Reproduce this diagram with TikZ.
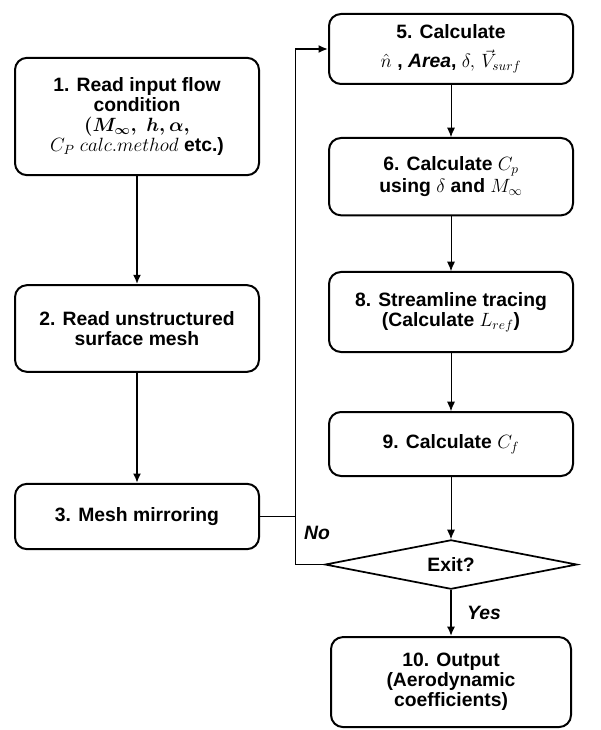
\documentclass[tikz,border=0pt]{standalone}
\usepackage{amsmath}
\usepackage{fontspec}
\setmainfont{Liberation Sans}
\usetikzlibrary{shapes.geometric,arrows.meta,positioning}

\begin{document}
\begin{tikzpicture}[
    x=0.75pt, y=0.75pt,
    box/.style={rectangle, draw, line width=1.5pt, rounded corners=9pt, minimum width=183pt, align=center, inner sep=2pt, font=\bfseries\fontsize{14.5}{15}\selectfont},
    decision/.style={diamond, draw, line width=1.3pt, aspect=5, minimum width=189pt, minimum height=37pt, inner sep=0pt, font=\bfseries\fontsize{14.5}{15}\selectfont},
    answer/.style={font=\bfseries\itshape\fontsize{14.5}{15}\selectfont},
    thickarrow/.style={-{Latex[length=7pt,width=6pt]}, line width=1.5pt},
    thinarrow/.style={-{Latex[length=7pt,width=6pt]}, line width=0.6pt},
    thinline/.style={line width=0.6pt}
]
\useasboundingbox (0,0) rectangle (600,-730);

% Left column
\node[box, minimum height=88pt] (read) at (137,-116.5) {1. Read input flow\\condition\\$\boldsymbol{(M_\infty,\; h, \alpha,}$\\$C_P\;calc.method$ etc.)};
\node[box, minimum height=65pt, below=81pt of read] (mesh) {2. Read unstructured\\surface mesh};
\node[box, minimum height=49pt, below=82.5pt of mesh] (mirror) {3. Mesh mirroring};

% Right column
\node[box, minimum height=52.5pt] (geom) at (451,-49) {5. Calculate\\[7pt]$\hat{n}$\;, \textit{Area}, $\delta,\,\vec{V}_{surf}$};
\node[box, minimum height=58pt, below=39pt of geom] (cp) {6. Calculate $C_p$\\[2pt]using $\delta$ and $M_\infty$};
\node[box, minimum height=60pt, below=41pt of cp] (stream) {8. Streamline tracing\\(Calculate $L_{ref}$)};
\node[box, minimum height=48pt, below=43.5pt of stream] (cf) {9. Calculate $C_f$};
\node[decision, below=46.5pt of cf] (exit) {Exit?};
\node[box, minimum height=67.5pt, minimum width=180pt, below=34.5pt of exit] (out) {10. Output\\(Aerodynamic\\coefficients)};

\coordinate (loop) at (295,0);

% Arrows
\draw[thickarrow] (read) -- (mesh);
\draw[thickarrow] (mesh) -- (mirror);

\draw[thinarrow] (geom) -- (cp);
\draw[thinarrow] (cp) -- (stream);
\draw[thinarrow] (stream) -- (cf);
\draw[thinarrow] (cf) -- (exit);
\draw[thickarrow] (exit) -- node[answer, right=8pt] {Yes} (out);

% Loop back
\draw[thinline] (exit.west) -- (exit.west -| loop) -- (geom.west -| loop);
\draw[thickarrow] (geom.west -| loop) -- (geom.west);
\draw[thinline] (mirror.east) -- (mirror.east -| loop);
\node[answer] (no) at (317,-533) {No};

\end{tikzpicture}
\end{document}
